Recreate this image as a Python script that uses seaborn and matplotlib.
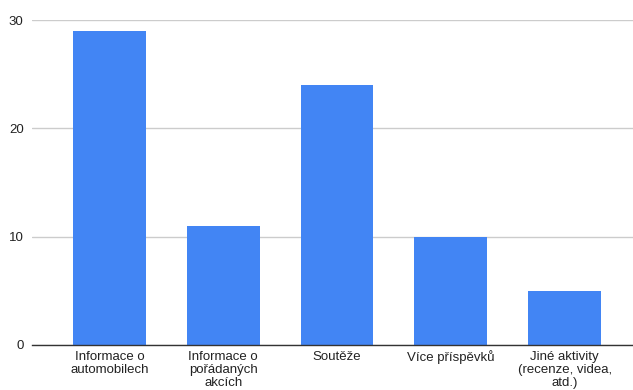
import matplotlib
matplotlib.use("Agg")
import matplotlib.pyplot as plt
import seaborn as sns
import pandas as pd

categories = ["Informace o\nautomobilech", "Informace o\npořádaných\nakcích", "Soutěže",
              "Více příspěvků", "Jiné aktivity\n(recenze, videa,\natd.)"]
values = [29, 11, 24, 10, 5]
yticks = [0, 10, 20, 30]

sns.set_theme(style="white")
plt.rcParams['font.family'] = ['Liberation Sans', 'DejaVu Sans']

df = pd.DataFrame({"cat": categories, "val": values})
fig = plt.figure(figsize=(6.33, 3.9), dpi=100)
ax = fig.add_axes([0.0506, 0.1154, 0.9494, 0.8333])
sns.barplot(data=df, x="cat", y="val", color="#4285F4", saturation=1, width=0.64,
            linewidth=0, ax=ax)
ax.set_xlim(-0.68, 4.6)
ax.set_ylim(0, 30)
ax.set_yticks(yticks)
ax.set_yticklabels([str(t) for t in yticks])
ax.yaxis.grid(True, color="#cccccc", linewidth=1)
ax.set_axisbelow(True)
for s in ["top", "right", "left"]:
    ax.spines[s].set_visible(False)
ax.spines["bottom"].set_color("#333333")
ax.spines["bottom"].set_linewidth(1)
ax.tick_params(axis="both", length=0, labelsize=9.5, colors="#222222")
ax.tick_params(axis="y", pad=6)
ax.tick_params(axis="x", pad=4)
for lbl in ax.get_xticklabels():
    lbl.set_linespacing(1.15)
ax.set_xlabel("")
ax.set_ylabel("")
fig.savefig("out.png", dpi=100)
